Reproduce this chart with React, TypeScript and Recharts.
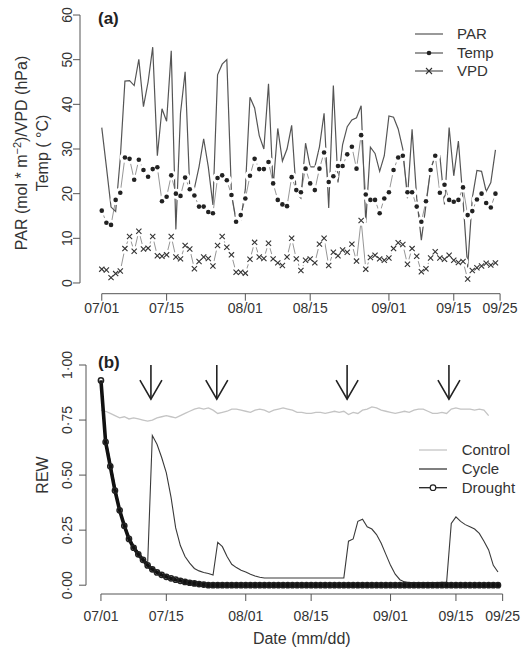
import { LineChart, Line, XAxis, YAxis, ReferenceLine, ReferenceDot, Legend } from 'recharts';

const FONT = '"Liberation Sans", Arial, Helvetica, sans-serif';
const INK = '#333';
const AXIS = '#555';

// shared date axis (days since 07/01)
const DATE_TICKS = [0, 14, 31, 45, 62, 76, 86];
const DATE_LABELS = ['07/01', '07/15', '08/01', '08/15', '09/01', '09/15', '09/25'];

// panel (a): daily weather, 07/01 .. 09/24
const WEATHER_TICKS = [0, 10, 20, 30, 40, 50, 60];
const WEATHER_NAMES = ['PAR', 'Temp', 'VPD'];

const PAR = [
  34.8, 26, 17, 16, 28, 45.2, 45.3, 44.2, 50.1, 39.5,
  45, 52.8, 28.5, 39, 36.2, 52, 12, 38, 47.3, 21,
  21.2, 26, 32.3, 26, 17.5, 46.6, 49, 50, 20, 14,
  14.1, 21, 41.6, 39.2, 33, 30, 44.6, 21.5, 34.6, 27.3,
  30, 35.3, 20, 19, 31.3, 26, 26, 30.5, 38, 16.8,
  44.2, 22.5, 31, 35, 36.5, 37, 39.7, 13.5, 30.4, 29,
  25, 28.5, 37.4, 37.1, 34.5, 30, 19, 34.4, 19, 9.6,
  17.5, 25.5, 28.5, 28.5, 17.6, 34.8, 24, 31.8, 18.5, 3.5,
  19, 25.2, 25, 20.5, 22.5, 29.8,
];

const TEMP = [
  16.2, 13.5, 13.0, 18.6, 20.2, 28.1, 27.8, 23.1, 27.6, 25.3,
  23.8, 25.5, 25.9, 18.3, 19.3, 24.1, 20.0, 19.5, 23.6, 21.0,
  19.6, 17.1, 17.1, 15.9, 15.6, 23.5, 24.1, 23.0, 19.7, 13.7,
  15.2, 18.9, 24.0, 27.8, 25.5, 25.5, 27.1, 22.3, 18.6, 17.6,
  17.2, 23.7, 20.8, 20.3, 25.6, 22.3, 20.8, 25.6, 29.2, 22.6,
  23.9, 26.2, 26.2, 28.8, 30.5, 25.6, 33.1, 19.8, 18.6, 18.6,
  15.6, 18.9, 20.3, 25.3, 28.1, 28.5, 20.3, 20.3, 17.1, 13.7,
  18.3, 25.3, 28.5, 20.2, 22.0, 18.6, 18.2, 18.6, 21.4, 15.2,
  16.1, 18.7, 20.0, 17.9, 16.9, 20.0,
];

const VPD = [
  3.1, 2.9, 1.2, 2.1, 2.7, 7.7, 10.4, 7.1, 11.6, 7.6,
  7.8, 10.4, 6.1, 6.0, 6.3, 10.4, 5.8, 5.4, 8.4, 7.6,
  3.2, 4.8, 5.8, 5.5, 3.8, 8.4, 10.4, 8.0, 6.3, 2.4,
  2.4, 2.2, 5.3, 9.1, 5.8, 5.5, 8.9, 5.4, 4.5, 3.9,
  5.8, 10.0, 5.4, 2.8, 5.1, 5.4, 4.5, 8.7, 10.0, 3.9,
  6.9, 6.1, 7.4, 6.9, 8.7, 4.9, 14.0, 3.1, 5.7, 6.2,
  5.4, 5.1, 5.6, 7.7, 9.0, 8.6, 4.2, 7.7, 6.0, 2.5,
  3.2, 5.6, 7.0, 5.6, 5.3, 6.2, 5.1, 4.6, 4.8, 0.9,
  2.8, 3.4, 3.8, 4.4, 4.0, 4.5,
];

// panel (b): relative extractable water
const REW_TICKS = [0, 0.25, 0.5, 0.75, 1];
const REW_LABELS = ['0·00', '0·25', '0·50', '0·75', '1·00'];
const REW_NAMES = ['Control', 'Cycle', 'Drought'];
const WATERING_DAYS = [10.7, 24.8, 52.7, 74.5];

const CONTROL = [
  0.795, 0.79, 0.78, 0.77, 0.76, 0.765, 0.755, 0.76, 0.755, 0.75,
  0.745, 0.75, 0.76, 0.765, 0.77, 0.765, 0.76, 0.77, 0.78, 0.79,
  0.80, 0.805, 0.80, 0.805, 0.795, 0.78, 0.785, 0.79, 0.80, 0.80,
  0.795, 0.79, 0.785, 0.795, 0.80, 0.795, 0.785, 0.795, 0.80, 0.805,
  0.80, 0.795, 0.785, 0.785, 0.78, 0.78, 0.785, 0.785, 0.78, 0.785,
  0.79, 0.785, 0.79, 0.775, 0.785, 0.78, 0.795, 0.80, 0.81, 0.805,
  0.795, 0.79, 0.785, 0.78, 0.785, 0.79, 0.785, 0.795, 0.80, 0.80,
  0.79, 0.78, 0.78, 0.785, 0.78, 0.80, 0.805, 0.80, 0.80, 0.80,
  0.795, 0.80, 0.795, 0.77,
];

const CYCLE = [
  0.93, 0.67, 0.56, 0.45, 0.35, 0.28, 0.22, 0.18, 0.15, 0.12,
  0.10, 0.68, 0.64, 0.58, 0.51, 0.40, 0.26, 0.18, 0.13, 0.10,
  0.076, 0.065, 0.058, 0.053, 0.046, 0.195, 0.175, 0.13, 0.095, 0.08,
  0.068, 0.06, 0.05, 0.042, 0.036, 0.033, 0.033, 0.033, 0.033, 0.033,
  0.033, 0.033, 0.033, 0.033, 0.033, 0.033, 0.033, 0.033, 0.033, 0.033,
  0.033, 0.033, 0.033, 0.20, 0.21, 0.29, 0.30, 0.265, 0.255, 0.23,
  0.19, 0.14, 0.09, 0.05, 0.025, 0.015, 0.012, 0.012, 0.011, 0.011,
  0.012, 0.012, 0.012, 0.013, 0.013, 0.28, 0.31, 0.29, 0.275, 0.265,
  0.255, 0.235, 0.20, 0.16, 0.09, 0.06,
];

const DROUGHT = [
  0.93, 0.65, 0.54, 0.43, 0.34, 0.27, 0.21, 0.17, 0.14, 0.115,
  0.09, 0.072, 0.058, 0.047, 0.038, 0.031, 0.025, 0.02, 0.015, 0.011,
  0.008, 0.005, 0.003, 0, 0, 0, 0, 0, 0, 0,
  0, 0, 0, 0, 0, 0, 0, 0, 0, 0,
  0, 0, 0, 0, 0, 0, 0, 0, 0, 0,
  0, 0, 0, 0, 0, 0, 0, 0, 0, 0,
  0, 0, 0, 0, 0, 0, 0, 0, 0, 0,
  0, 0, 0, 0, 0, 0, 0, 0, 0, 0,
  0, 0, 0, 0, 0, 0,
];

const weatherRows = PAR.map((par, i) => ({ day: i, par, temp: TEMP[i], vpd: VPD[i] }));
const rewRows = DROUGHT.map((drought, i) => ({
  day: i,
  control: CONTROL[i],
  cycle: CYCLE[i],
  drought,
}));

function dateLabel(v: number): string {
  const i = DATE_TICKS.indexOf(v);
  return i >= 0 ? DATE_LABELS[i] : '';
}

function rewLabel(v: number): string {
  const i = REW_TICKS.indexOf(v);
  return i >= 0 ? REW_LABELS[i] : '';
}

// R style rotated y tick label
function SideTick(props: any) {
  const { y, payload, baseX, fmt } = props;
  return (
    <text
      x={baseX}
      y={y}
      transform={`rotate(-90 ${baseX} ${y})`}
      textAnchor="middle"
      fontSize={14}
      fontFamily={FONT}
      fill={INK}
    >
      {fmt(payload.value)}
    </text>
  );
}

function Cross({ cx, cy, s = 2.6 }: { cx: number; cy: number; s?: number }) {
  return (
    <g stroke="#333" strokeWidth={1.1}>
      <line x1={cx - s} y1={cy - s} x2={cx + s} y2={cy + s} />
      <line x1={cx - s} y1={cy + s} x2={cx + s} y2={cy - s} />
    </g>
  );
}

// white halo so lines stop short of the points (R type = "b")
function halo(p: any) {
  if (p.cx == null || p.cy == null) return <g key={`h${p.index}`} />;
  return <circle key={`h${p.index}`} cx={p.cx} cy={p.cy} r={5.2} fill="#fff" />;
}

function tempDot(p: any) {
  if (p.cx == null || p.cy == null) return <g key={`t${p.index}`} />;
  return <circle key={`t${p.index}`} cx={p.cx} cy={p.cy} r={2.3} fill="#222" />;
}

function vpdDot(p: any) {
  if (p.cx == null || p.cy == null) return <g key={`v${p.index}`} />;
  return <Cross key={`v${p.index}`} cx={p.cx} cy={p.cy} />;
}

// dense hourly circles merge into a solid band once the soil is dry
function droughtDot(p: any) {
  if (p.cx == null || p.cy == null) return <g key={`d${p.index}`} />;
  const dry = p.value != null && p.value < 0.02;
  return (
    <circle
      key={`d${p.index}`}
      cx={p.cx}
      cy={p.cy}
      r={2.6}
      fill={dry ? '#111' : 'none'}
      stroke="#222"
      strokeWidth={1.5}
    />
  );
}

function ArrowHead(p: any) {
  const { cx, cy } = p;
  return (
    <polyline
      points={`${cx - 11},${cy - 19} ${cx},${cy} ${cx + 11},${cy - 19}`}
      fill="none"
      stroke="#222"
      strokeWidth={1.6}
    />
  );
}

function WeatherTitles() {
  return (
    <g fontFamily={FONT} fill={INK}>
      <text x={27} y={153} transform="rotate(-90 27 153)" textAnchor="middle" fontSize={16}>
        PAR (mol * m
        <tspan fontSize={11} dy={-6}>
          −2
        </tspan>
        <tspan dy={6}>)/VPD (hPa)</tspan>
      </text>
      <text x={47.5} y={153} transform="rotate(-90 47.5 153)" textAnchor="middle" fontSize={16}>
        Temp ( °C)
      </text>
      <text x={98} y={24} fontSize={17} fontWeight="bold" fill="#222">
        (a)
      </text>
    </g>
  );
}

function RewTitles() {
  return (
    <g fontFamily={FONT} fill={INK}>
      <text x={47.5} y={145} transform="rotate(-90 47.5 145)" textAnchor="middle" fontSize={16}>
        REW
      </text>
      <text x={98} y={38} fontSize={17} fontWeight="bold" fill="#222">
        (b)
      </text>
    </g>
  );
}

function WeatherKey() {
  const rows = [14, 33, 51];
  return (
    <svg width={112} height={64} style={{ display: 'block', overflow: 'visible' }}>
      {WEATHER_NAMES.map((name, i) => (
        <g key={name}>
          <line x1={5} x2={33} y1={rows[i]} y2={rows[i]} stroke="#555" strokeWidth={1.2} />
          {i === 1 && <circle cx={19} cy={rows[i]} r={2.3} fill="#222" />}
          {i === 2 && <Cross cx={19} cy={rows[i]} s={3} />}
          <text x={47} y={rows[i] + 5} fontSize={15} fill={INK} fontFamily={FONT}>
            {name}
          </text>
        </g>
      ))}
    </svg>
  );
}

function RewKey() {
  const rows = [14, 33, 51.7];
  const colors = ['#c4c4c4', '#3a3a3a', '#222'];
  return (
    <svg width={112} height={64} style={{ display: 'block', overflow: 'visible' }}>
      {REW_NAMES.map((name, i) => (
        <g key={name}>
          <line x1={9} x2={37} y1={rows[i]} y2={rows[i]} stroke={colors[i]} strokeWidth={1.3} />
          {i === 2 && <circle cx={23} cy={rows[i]} r={2.8} fill="#fff" stroke="#222" strokeWidth={1.2} />}
          <text x={51.7} y={rows[i] + 5} fontSize={15} fill={INK} fontFamily={FONT}>
            {name}
          </text>
        </g>
      ))}
    </svg>
  );
}

export default function App() {
  return (
    <div
      style={{
        position: 'absolute',
        left: 0,
        top: 0,
        width: 522,
        height: 648,
        background: '#fff',
        fontFamily: FONT,
      }}
    >
      <div style={{ position: 'absolute', left: 0, top: 0 }}>
        <LineChart
          width={522}
          height={330}
          data={weatherRows}
          margin={{ top: 4.3, right: 2, bottom: 0, left: 0 }}
        >
          <XAxis
            type="number"
            dataKey="day"
            domain={[-4.7, 90.3]}
            allowDataOverflow
            ticks={DATE_TICKS}
            interval={0}
            tickFormatter={dateLabel}
            axisLine={false}
            tickSize={7}
            height={36.3}
            tickLine={{ stroke: AXIS }}
            tick={{ fontSize: 14, fill: INK, fontFamily: FONT }}
          />
          <YAxis
            type="number"
            domain={[-2.4, 62.4]}
            allowDataOverflow
            ticks={WEATHER_TICKS}
            interval={0}
            width={80}
            axisLine={false}
            tickSize={7}
            tickLine={{ stroke: AXIS }}
            tick={(p: any) => <SideTick {...p} baseX={72} fmt={(v: number) => String(v)} />}
            label={() => <WeatherTitles />}
          />
          <ReferenceLine segment={[{ x: 0, y: -2.4 }, { x: 86, y: -2.4 }]} stroke={AXIS} ifOverflow="visible" />
          <ReferenceLine segment={[{ x: -4.7, y: 0 }, { x: -4.7, y: 60 }]} stroke={AXIS} ifOverflow="visible" />
          <Line dataKey="temp" stroke="#8a8a8a" strokeWidth={0.9} dot={halo} activeDot={false} isAnimationActive={false} />
          <Line dataKey="vpd" stroke="#8a8a8a" strokeWidth={0.9} dot={halo} activeDot={false} isAnimationActive={false} />
          <Line dataKey="par" stroke="#555" strokeWidth={1.2} dot={false} activeDot={false} isAnimationActive={false} />
          <Line dataKey="temp" stroke="none" dot={tempDot} activeDot={false} isAnimationActive={false} />
          <Line dataKey="vpd" stroke="none" dot={vpdDot} activeDot={false} isAnimationActive={false} />
          <Legend
            layout="vertical"
            align="center"
            verticalAlign="middle"
            content={() => <WeatherKey />}
            wrapperStyle={{ left: 410, top: 20, width: 112, height: 64 }}
          />
        </LineChart>
      </div>

      <div style={{ position: 'absolute', left: 0, top: 330 }}>
        <LineChart
          width={522}
          height={318}
          data={rewRows}
          margin={{ top: 26.2, right: 4.4, bottom: 0, left: 0 }}
        >
          <XAxis
            type="number"
            dataKey="day"
            domain={[-3.2, 89.2]}
            allowDataOverflow
            ticks={DATE_TICKS}
            interval={0}
            tickFormatter={dateLabel}
            axisLine={false}
            tickSize={7}
            tickMargin={10}
            height={54}
            tickLine={{ stroke: AXIS }}
            tick={{ fontSize: 14, fill: INK, fontFamily: FONT }}
            label={{
              value: 'Date (mm/dd)',
              position: 'insideBottom',
              offset: 4,
              fontSize: 16,
              fill: INK,
              fontFamily: FONT,
            }}
          />
          <YAxis
            type="number"
            domain={[-0.04, 1.04]}
            allowDataOverflow
            ticks={REW_TICKS}
            interval={0}
            width={86}
            axisLine={false}
            tickSize={7}
            tickLine={{ stroke: AXIS }}
            tick={(p: any) => <SideTick {...p} baseX={72} fmt={rewLabel} />}
            label={() => <RewTitles />}
          />
          <ReferenceLine segment={[{ x: 0, y: -0.04 }, { x: 86, y: -0.04 }]} stroke={AXIS} ifOverflow="visible" />
          <ReferenceLine segment={[{ x: -3.2, y: 0 }, { x: -3.2, y: 1 }]} stroke={AXIS} ifOverflow="visible" />
          {WATERING_DAYS.map((d) => (
            <ReferenceLine
              key={`s${d}`}
              segment={[{ x: d, y: 1 }, { x: d, y: 0.845 }]}
              stroke="#222"
              strokeWidth={1.6}
            />
          ))}
          {WATERING_DAYS.map((d) => (
            <ReferenceDot key={`h${d}`} x={d} y={0.845} shape={ArrowHead} />
          ))}
          <Line dataKey="control" stroke="#c4c4c4" strokeWidth={1.3} dot={false} activeDot={false} isAnimationActive={false} />
          <Line dataKey="cycle" stroke="#3a3a3a" strokeWidth={1.1} dot={false} activeDot={false} isAnimationActive={false} />
          <Line dataKey="drought" stroke="#111" strokeWidth={3.6} dot={droughtDot} activeDot={false} isAnimationActive={false} />
          <Legend
            layout="vertical"
            align="center"
            verticalAlign="middle"
            content={() => <RewKey />}
            wrapperStyle={{ left: 410, top: 106, width: 112, height: 64 }}
          />
        </LineChart>
      </div>
    </div>
  );
}
